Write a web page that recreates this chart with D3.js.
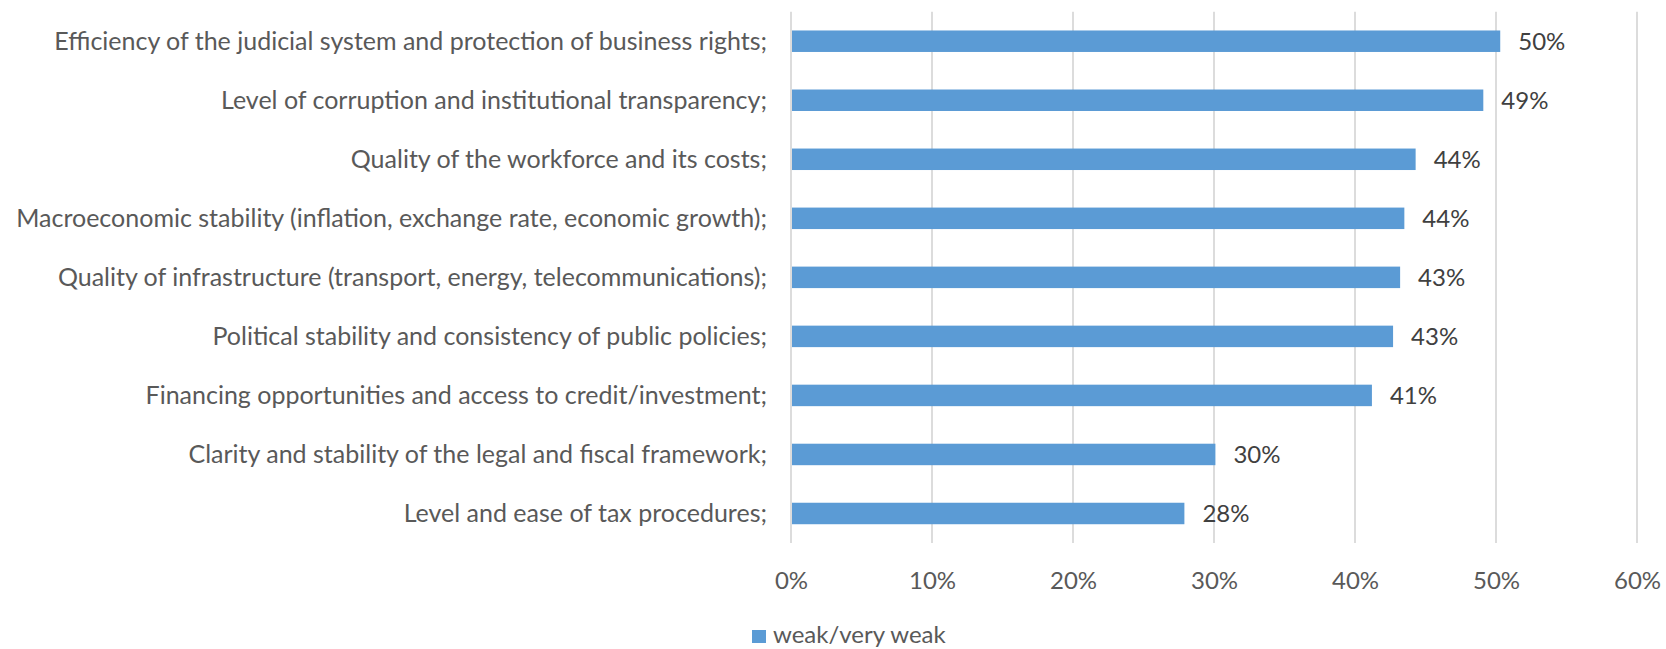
<!DOCTYPE html>
<html>
<head>
<meta charset="utf-8">
<script src="https://cdn.jsdelivr.net/npm/d3@7/dist/d3.min.js"></script>
<style>
  html, body { margin: 0; padding: 0; background: #ffffff; }
  svg { display: block; }
</style>
</head>
<body>
<svg id="chart" width="1666" height="649"></svg>
<script>
const categories = [
  "Efficiency of the judicial system and protection of business rights;",
  "Level of corruption and institutional transparency;",
  "Quality of the workforce and its costs;",
  "Macroeconomic stability (inflation, exchange rate, economic growth);",
  "Quality of infrastructure (transport, energy, telecommunications);",
  "Political stability and consistency of public policies;",
  "Financing opportunities and access to credit/investment;",
  "Clarity and stability of the legal and fiscal framework;",
  "Level and ease of tax procedures;"
];
const values = [0.503, 0.491, 0.443, 0.435, 0.432, 0.427, 0.412, 0.301, 0.279];
const valueLabels = ["50%", "49%", "44%", "44%", "43%", "43%", "41%", "30%", "28%"];
const tickValues = [0, 0.1, 0.2, 0.3, 0.4, 0.5, 0.6];
const seriesName = "weak/very weak";

const FONT = "Lato, 'Open Sans', sans-serif";
const svg = d3.select("#chart");

const x = d3.scaleLinear().domain([0, 0.6]).range([791, 1637]);
const y = d3.scaleBand().domain(categories).range([11.7, 543])
  .paddingInner(0.636).paddingOuter(0.318);

// gridlines
svg.append("g").selectAll("line").data(tickValues).join("line")
  .attr("x1", d => x(d)).attr("x2", d => x(d))
  .attr("y1", 11.7).attr("y2", 543)
  .attr("stroke", "#d9d9d9").attr("stroke-width", 1.8);

// x axis labels
const xAxis = d3.axisBottom(x).tickValues(tickValues).tickFormat(d3.format(".0%")).tickSize(0);
const gx = svg.append("g").attr("transform", "translate(0,569)").call(xAxis);
gx.select(".domain").remove();
gx.selectAll("text").attr("font-family", FONT).attr("font-size", 24)
  .attr("fill", "#595959").attr("dy", "0.71em");

// category labels
const yAxis = d3.axisLeft(y).tickSize(0).tickPadding(0);
const gy = svg.append("g").attr("transform", "translate(767,0)").call(yAxis);
gy.select(".domain").remove();
gy.selectAll("text").attr("font-family", FONT).attr("font-size", 25)
  .attr("fill", "#595959").attr("dy", "0.36em");

// bars
svg.append("g").selectAll("rect").data(values).join("rect")
  .attr("x", x(0) + 1)
  .attr("y", (d, i) => y(categories[i]))
  .attr("width", d => x(d) - x(0) - 1)
  .attr("height", y.bandwidth())
  .attr("fill", "#5b9bd5");

// data labels
svg.append("g").selectAll("text").data(values).join("text")
  .attr("x", d => x(d) + 18)
  .attr("y", (d, i) => y(categories[i]) + y.bandwidth() / 2)
  .attr("dy", "0.36em")
  .attr("font-family", FONT).attr("font-size", 24)
  .attr("fill", "#404040")
  .text((d, i) => valueLabels[i]);

// legend
const lg = svg.append("g");
lg.append("rect").attr("x", 752).attr("y", 630).attr("width", 14).attr("height", 13).attr("fill", "#5b9bd5");
lg.append("text").attr("x", 773).attr("y", 643)
  .attr("font-family", FONT).attr("font-size", 24).attr("fill", "#595959")
  .text(seriesName);
</script>
</body>
</html>
